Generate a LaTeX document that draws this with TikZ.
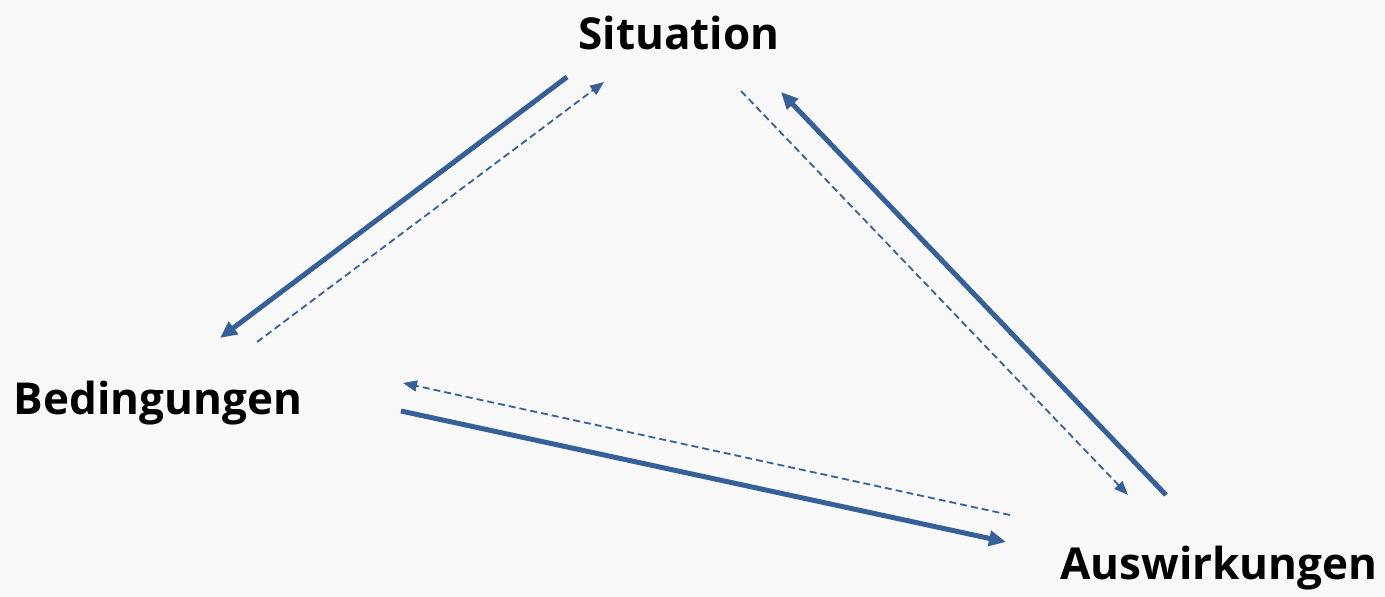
\documentclass[tikz,border=0pt]{standalone}
\usepackage{fontspec}
\setmainfont{Open Sans}
\usetikzlibrary{arrows.meta}
\definecolor{bg}{HTML}{F9F9F9}
\definecolor{arr}{HTML}{36609A}
\tikzset{
  lbl/.style={font=\fontsize{44}{52}\selectfont\bfseries, inner sep=0pt, text=black},
  solidarr/.style={draw=arr, line width=5pt, -{Triangle[length=17pt,width=15pt]}},
  dasharr/.style={draw=arr, line width=1.8pt, dash pattern=on 7pt off 4pt, -{Triangle[length=14pt,width=11pt]}}
}
\begin{document}
\begin{tikzpicture}[x=1pt,y=-1pt]
\fill[bg] (0,0) rectangle (1385,597);
\useasboundingbox (0,0) rectangle (1385,597);
\node[lbl] (sit) at (679,33) {Situation};
\node[lbl] (bed) at (158,403) {Bedingungen};
\node[lbl] (aus) at (1219,568) {Auswirkungen};
\coordinate (s1) at (567,77);  \coordinate (b1) at (220,338);
\coordinate (b2) at (257,342); \coordinate (s2) at (604,82);
\coordinate (s3) at (741,91);  \coordinate (a3) at (1128,495);
\coordinate (a4) at (1166,495);\coordinate (s4) at (781,92);
\coordinate (b5) at (401,411); \coordinate (a5) at (1006,542);
\coordinate (a6) at (1010,515);\coordinate (b6) at (403,383);
\draw[solidarr] (s1) -- (b1);
\draw[dasharr] (b2) -- (s2);
\draw[dasharr] (s3) -- (a3);
\draw[solidarr] (a4) -- (s4);
\draw[solidarr] (b5) -- (a5);
\draw[dasharr] (a6) -- (b6);
\end{tikzpicture}
\end{document}
